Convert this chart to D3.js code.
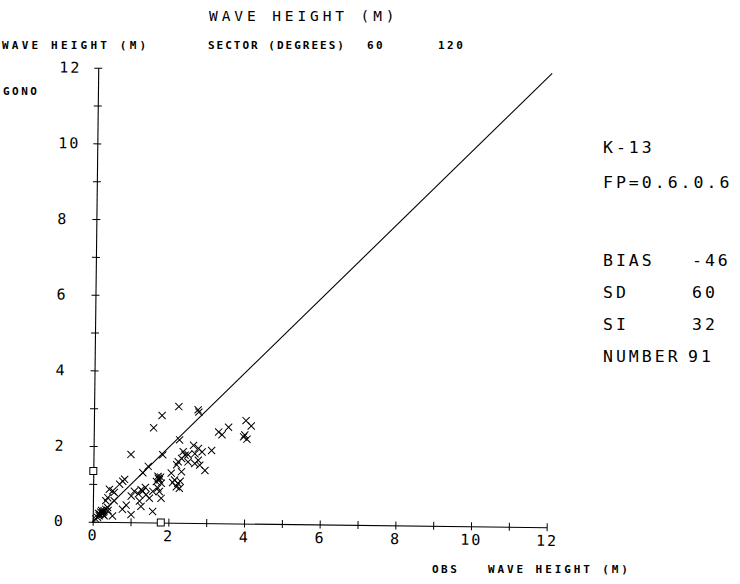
<!DOCTYPE html>
<html><head><meta charset="utf-8">
<script src="https://cdn.jsdelivr.net/npm/d3@7"></script>
<style>body{margin:0;background:#fff}</style>
</head><body>
<svg id="c" width="740" height="584"></svg>
<script>
// observed wave height (m) and GONO model wave height (m)
const obsValues  = [2.24,2.75,2.77,1.80,1.58,0.99,2.27,1.83,
  3.56,3.30,3.39,4.02,4.16,3.99,4.05,3.96,3.12,
  2.87,2.77,2.68,2.64,2.37,2.42,2.33,2.50,2.24,2.20,2.50,2.68,2.81,2.95,2.77,2.06,2.33,2.15,2.24,2.20,2.28,2.10,2.30,
  1.71,1.75,1.67,1.80,1.71,1.75,1.58,1.80,1.58,1.72,1.78,
  1.31,1.45,1.27,1.31,1.40,1.49,1.09,1.01,1.23,1.27,1.01,1.38,1.20,
  0.78,0.83,0.78,0.70,0.52,0.43,0.56,0.34,0.39,0.56,0.52,0.39,0.88,
  0.21,0.26,0.30,0.17,0.13,0.08,0.30,0.23,0.25,0.19,0.28,0.15,0.34,0.40];
const gonoValues = [3.07,2.99,2.93,2.83,2.50,1.79,2.19,1.79,
  2.54,2.41,2.34,2.72,2.58,2.34,2.23,2.29,1.92,
  1.88,1.97,1.83,2.05,1.88,1.79,1.70,1.80,1.61,1.53,1.61,1.57,1.53,1.39,1.66,1.31,1.35,1.13,1.04,0.95,0.91,1.06,1.10,
  1.22,1.13,1.08,1.04,0.91,0.82,0.82,0.64,0.29,1.17,1.20,
  1.31,1.48,0.86,0.82,0.73,0.64,0.82,0.69,0.56,0.42,0.20,0.92,0.75,
  0.34,1.13,1.08,1.00,0.82,0.86,0.78,0.56,0.64,0.56,0.16,0.38,0.45,
  0.25,0.20,0.29,0.16,0.11,0.07,0.16,0.30,0.24,0.20,0.26,0.22,0.33,0.30];
const axisTicks = [0,1,2,3,4,5,6,7,8,9,10,11,12];
const axisLabels = [0,2,4,6,8,10,12];
const meanObs = 1.8, meanGono = 1.34;
const identityLine = [0,12];
const headerTitle = "WAVE HEIGHT (M)";
const headerLeft = "WAVE HEIGHT (M)";
const sectorText = "SECTOR (DEGREES)";
const sectorValues = ["60","120"];
const yName = "GONO";
const xNameA = "OBS", xNameB = "WAVE HEIGHT (M)";
const runInfo = ["K-13","FP=0.6.0.6"];
const statLabels = ["BIAS","SD","SI","NUMBER"];
const statValues = ["-46","60","32","91"];

const svg = d3.select("#c");
const ox = 92.7, oy = 521.7, L = 454;
const x = d3.scaleLinear().domain([0,12]).range([ox, ox+L]);
const y = d3.scaleLinear().domain([0,12]).range([oy, oy-L]);

const thin = "'DejaVu Sans Mono', monospace";

const g = svg.append("g").attr("transform", `rotate(0.7, ${ox}, ${oy})`);

// x axis
const xa = g.append("g").attr("transform", `translate(0,${oy})`)
  .call(d3.axisBottom(x).tickValues(axisTicks).tickSizeInner(4).tickSizeOuter(0)
    .tickFormat(d => axisLabels.includes(d) ? d : ""));
xa.select(".domain").attr("stroke","#000").attr("stroke-width",1.1);
xa.selectAll(".tick line").attr("y1",-4).attr("y2",4).attr("stroke","#000");
xa.selectAll(".tick text").attr("y",8).attr("dy","0.71em")
  .attr("font-family",thin).attr("font-size",15).attr("letter-spacing",2).attr("fill","#000");

// y axis
const ya = g.append("g").attr("transform", `translate(${ox},0)`)
  .call(d3.axisLeft(y).tickValues(axisTicks).tickSizeInner(4).tickSizeOuter(0)
    .tickFormat(d => (axisLabels.includes(d) && d !== 0) ? d : ""));
ya.select(".domain").attr("stroke","#000").attr("stroke-width",1.1);
ya.selectAll(".tick line").attr("x1",-4).attr("x2",4).attr("stroke","#000");
ya.selectAll(".tick text").attr("x",-39).attr("text-anchor","start")
  .attr("font-family",thin).attr("font-size",15).attr("letter-spacing",2).attr("fill","#000");
g.append("text").attr("x", ox-39).attr("y", y(0)).attr("dy","0.32em")
  .attr("font-family",thin).attr("font-size",15).text(0);

// identity line
g.append("line").attr("x1",x(identityLine[0])).attr("y1",y(identityLine[0]))
  .attr("x2",x(identityLine[1])).attr("y2",y(identityLine[1]))
  .attr("stroke","#000").attr("stroke-width",1.1);

// mean markers
const sq = 7;
g.append("rect").attr("x",x(meanObs)-sq/2).attr("y",y(0)-sq/2).attr("width",sq).attr("height",sq)
  .attr("fill","#fff").attr("stroke","#000");
g.append("rect").attr("x",x(0)-sq/2).attr("y",y(meanGono)-sq/2).attr("width",sq).attr("height",sq)
  .attr("fill","#fff").attr("stroke","#000");

// crosses
const pts = obsValues.map((v,i)=>({o:v, m:gonoValues[i]}));
const s = 3.6;
const cr = g.append("g").attr("stroke","#000").attr("stroke-width",1);
cr.selectAll("path").data(pts).join("path")
  .attr("d", d => { const px=x(d.o), py=y(d.m);
    return `M${px-s},${py-s}L${px+s},${py+s}M${px-s},${py+s}L${px+s},${py-s}`; })
  .attr("fill","none");

// texts
svg.append("text").attr("x",209).attr("y",21).attr("font-family",thin).attr("font-size",14.5)
  .attr("letter-spacing",3.9).text(headerTitle);
function bt(t,xx,yy,ls){ svg.append("text").attr("x",xx).attr("y",yy).attr("font-family",thin)
  .attr("font-weight","bold").attr("font-size",11).attr("letter-spacing",ls).text(t); }
bt(headerLeft,2,49,3.2);
bt(sectorText,208,49,2.0);
bt(sectorValues[0],367,49,2.5);
bt(sectorValues[1],438,49,2.5);
bt(yName,3,95,2.5);
bt(xNameA,432,573,2.5);
bt(xNameB,488,573,2.9);

function rt(t,xx,yy){ svg.append("text").attr("x",xx).attr("y",yy).attr("font-family",thin)
  .attr("font-size",16.5).attr("letter-spacing",3).text(t); }
rt(runInfo[0],603,153);
rt(runInfo[1],603,188);
const statY = [266,298,330,362];
const statX = [692,692,692,688];
statLabels.forEach((l,i)=>{ rt(l,603,statY[i]); rt(statValues[i],statX[i],statY[i]); });
</script>
</body></html>
